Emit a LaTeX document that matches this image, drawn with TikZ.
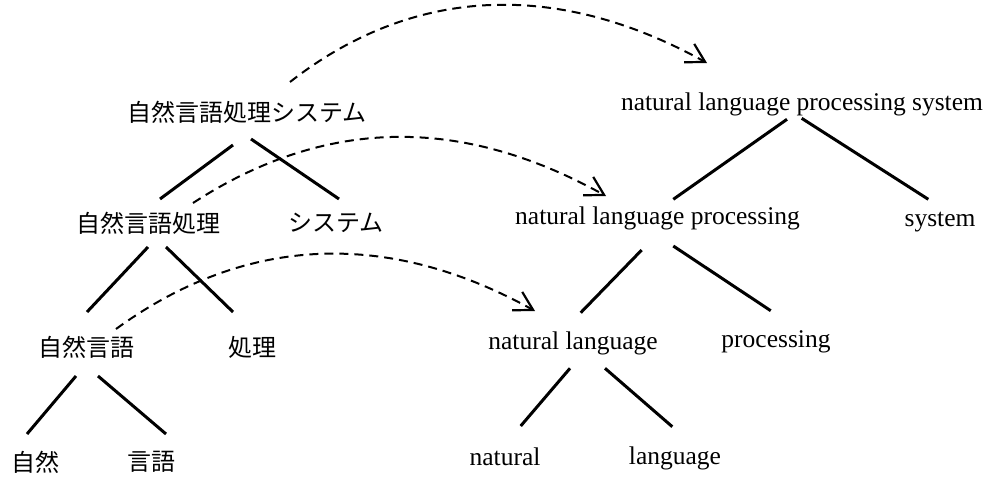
\documentclass[tikz,border=0pt]{standalone}
\usepackage{fontspec}
\setmainfont{Liberation Serif}
\newfontfamily\jfont{Noto Sans CJK JP}
\usetikzlibrary{arrows.meta,calc}
\begin{document}
\begin{tikzpicture}[x=1pt,y=1pt,
  en/.style={font=\fontsize{25.5}{30}\selectfont, inner sep=0pt, anchor=base},
  ja/.style={font=\jfont\fontsize{24}{28}\selectfont, inner sep=0pt, anchor=center},
  branch/.style={line width=3pt},
  xfer/.style={line width=2pt, dash pattern=on 9pt off 6pt,
    -{Straight Barb[angle=60:21pt, line width=2.2pt]}}]
\useasboundingbox (0,0) rectangle (987,-479);

% Japanese tree
\node[ja] (J1) at (247,-112.5) {自然言語処理システム};
\node[ja] (J2) at (148,-223) {自然言語処理};
\node[ja] (J3) at (336,-223) {システム};
\node[ja] (J4) at (86,-347) {自然言語};
\node[ja] (J5) at (252,-347) {処理};
\node[ja] (J6) at (35,-462) {自然};
\node[ja] (J7) at (151,-462) {言語};

\draw[branch] ($(J1)+(-14,-32.5)$) -- ($(J2)+(12,24)$);
\draw[branch] ($(J1)+(4,-26.5)$) -- ($(J3)+(3,24)$);
\draw[branch] ($(J2)+(0,-24)$) -- ($(J4)+(1,35)$);
\draw[branch] ($(J2)+(18,-24)$) -- ($(J5)+(-19,35)$);
\draw[branch] ($(J4)+(-10,-29)$) -- ($(J6)+(-8,28)$);
\draw[branch] ($(J4)+(12,-29)$) -- ($(J7)+(15,28)$);

% English tree
\node[en] (E1) at (802,-110.5) {natural language processing system};
\node[en] (E2) at (657.5,-224) {natural language processing};
\node[en] (E3) at (940,-226) {system};
\node[en] (E4) at (573,-349) {natural language};
\node[en] (E5) at (776,-347) {processing};
\node[en] (E6) at (505,-465.5) {natural};
\node[en] (E7) at (675,-464.5) {language};

\draw[branch] ($(E1.base)+(-15,-8.8)$) -- ($(E2.base)+(15.8,24.7)$);
\draw[branch] ($(E1.base)+(-0.3,-7.8)$) -- ($(E3.base)+(-11.7,26.7)$);
\draw[branch] ($(E2.base)+(-15.8,-26)$) -- ($(E4.base)+(7.7,36.3)$);
\draw[branch] ($(E2.base)+(15.8,-22)$) -- ($(E5.base)+(-5.3,36.3)$);
\draw[branch] ($(E4.base)+(-3,-19.3)$) -- ($(E6.base)+(15.7,39.5)$);
\draw[branch] ($(E4.base)+(32,-19.3)$) -- ($(E7.base)+(-2.7,37.8)$);

% transfer arrows
\draw[xfer] ($(J1)+(43,30.5)$) to[out=38,in=151] ($(E1.base)+(-95,47.5)$);
\draw[xfer] ($(J2)+(45,20)$) to[out=33,in=151] ($(E2.base)+(-51.5,28)$);
\draw[xfer] ($(J4)+(30,18)$) to[out=36,in=151] ($(E4.base)+(-38,38)$);
\end{tikzpicture}
\end{document}
